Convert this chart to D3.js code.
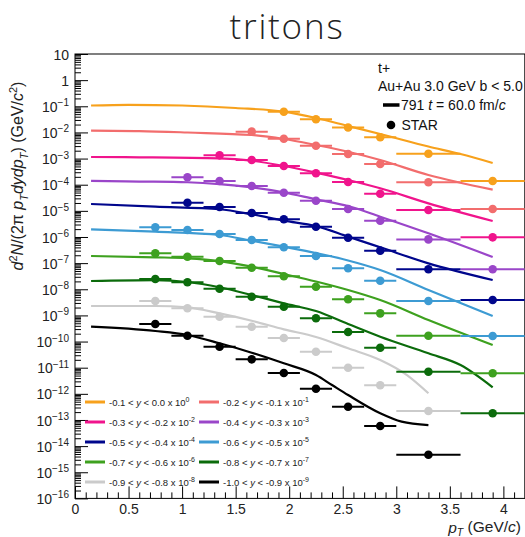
<!DOCTYPE html>
<html>
<head>
<meta charset="utf-8">
<script src="https://cdn.jsdelivr.net/npm/d3@7"></script>
<style>
  body { margin: 0; background: #fff; }
  svg { display: block; font-family: "Liberation Sans", Arial, Helvetica, sans-serif; }
</style>
</head>
<body>
<svg id="chart" width="525" height="537"></svg>
<script>
// pT bins of the STAR triton spectra (GeV/c): centres and half widths
const binCenters    = [0.75, 1.05, 1.35, 1.65, 1.95, 2.25, 2.55, 2.85, 3.3, 3.9];
const binHalfWidths = [0.15, 0.15, 0.15, 0.15, 0.15, 0.15, 0.15, 0.15, 0.3, 0.3];

// rapidity windows and the power of ten each spectrum is scaled by
const rapLow   = ["-0.1", "-0.2", "-0.3", "-0.4", "-0.5", "-0.6", "-0.7", "-0.8", "-0.9", "-1.0"];
const rapHigh  = ["0.0", "-0.1", "-0.2", "-0.3", "-0.4", "-0.5", "-0.6", "-0.7", "-0.8", "-0.9"];
const scaleExp = [0, -1, -2, -3, -4, -5, -6, -7, -8, -9];
const colors   = ["#f7a11c", "#f26d6d", "#f0148c", "#9a46c9", "#00068c",
                  "#3d9bd3", "#3ea11f", "#0b6b0b", "#cbcbcb", "#000000"];

// STAR yields d2N/(2pi pT dy dpT), unscaled, one entry per pT bin (null = not measured)
const star0 = [null, null, null, null, 0.062, 0.032, 0.0154, 0.0065, 0.00153, 1.39e-4];
const star1 = [null, null, null, 0.107, 0.0575, 0.031, 0.0149, 0.0062, 0.00124, 1.17e-4];
const star2 = [null, null, 0.133, 0.088, 0.0519, 0.0273, 0.0127, 0.00453, 0.00108, 9.7e-5];
const star3 = [null, 0.192, 0.139, 0.089, 0.0494, 0.0244, 0.0117, 0.0042, 8.1e-4, 5.8e-5];
const star4 = [null, 0.205, 0.140, 0.0826, 0.0479, 0.0247, 0.0094, 0.0030, 5.8e-4, 3.9e-5];
const star5 = [0.234, 0.185, 0.130, 0.0766, 0.0403, 0.0187, 0.00634, 0.00212, 3.56e-4, 1.63e-5];
const star6 = [0.238, 0.176, 0.120, 0.0668, 0.0313, 0.0125, 0.00413, 0.00120, 1.67e-4, 6.1e-6];
const star7 = [0.247, 0.185, 0.105, 0.0519, 0.0215, 0.00774, 0.00232, 5.8e-4, 7.0e-5, 1.8e-6];
const star8 = [0.356, 0.187, 0.089, 0.037, 0.0136, 0.00408, 0.00100, 2.12e-4, 2.2e-5, null];
const star9 = [0.469, 0.167, 0.0635, 0.0209, 0.00627, 0.00157, 3.2e-4, 5.9e-5, 4.7e-6, null];
const starSeries = [star0, star1, star2, star3, star4, star5, star6, star7, star8, star9];

// model spectra (t = 60 fm/c), unscaled: [pT, yield]
const model0 = [[0.15, 0.107], [0.5, 0.114], [1.0, 0.107], [1.5, 0.0859], [1.95, 0.0621], [2.25, 0.0356],
                [2.55, 0.0176], [2.85, 0.00871], [3.3, 0.00289], [3.6, 0.00149], [3.9, 6.8e-4]];
const model1 = [[0.15, 0.118], [0.6, 0.113], [1.05, 0.0993], [1.65, 0.0796], [1.95, 0.056], [2.25, 0.033],
                [2.55, 0.0183], [2.85, 0.00881], [3.3, 0.00235], [3.9, 6.5e-4]];
const model2 = [[0.15, 0.115], [0.6, 0.112], [1.35, 0.102], [1.65, 0.0828], [1.95, 0.0519], [2.25, 0.0288],
                [2.55, 0.0151], [2.85, 0.00728], [3.3, 0.00194], [3.9, 4.1e-4]];
const model3 = [[0.15, 0.139], [0.6, 0.132], [1.05, 0.124], [1.35, 0.106], [1.65, 0.0796], [1.95, 0.0512],
                [2.25, 0.0276], [2.55, 0.0153], [2.85, 0.00597], [3.3, 0.00138], [3.9, 1.71e-4]];
const model4 = [[0.15, 0.183], [0.75, 0.144], [1.35, 0.115], [1.65, 0.0738], [1.95, 0.042], [2.25, 0.026],
                [2.55, 0.0103], [2.85, 0.00403], [3.3, 9.8e-4], [3.9, 2.26e-4]];
const model5 = [[0.15, 0.197], [0.75, 0.159], [1.35, 0.119], [1.65, 0.0721], [1.95, 0.0425], [2.25, 0.0244],
                [2.55, 0.0126], [2.85, 0.00546], [3.3, 9.4e-4], [3.9, 9.5e-5]];
const model6 = [[0.15, 0.187], [0.75, 0.167], [1.05, 0.153], [1.35, 0.120], [1.65, 0.073], [1.95, 0.0384],
                [2.25, 0.0198], [2.55, 0.00937], [2.85, 0.00388], [3.3, 6.7e-4], [3.9, 7.4e-5]];
const model7 = [[0.15, 0.207], [0.75, 0.225], [1.05, 0.19], [1.35, 0.119], [1.65, 0.0603], [1.95, 0.029],
                [2.25, 0.0147], [2.55, 0.00469], [2.85, 0.00153], [3.3, 3.55e-4], [3.6, 1.26e-4], [3.9, 1.77e-5]];
const model8 = [[0.15, 0.229], [0.75, 0.229], [1.05, 0.204], [1.35, 0.120], [1.65, 0.0627], [1.95, 0.0294],
                [2.25, 0.0149], [2.55, 0.00551], [2.85, 0.00197], [3.1, 5.2e-4], [3.3, 1.05e-4]];
const model9 = [[0.15, 0.370], [0.75, 0.253], [1.05, 0.178], [1.35, 0.0857], [1.65, 0.0374], [1.95, 0.0147],
                [2.25, 0.00525], [2.4, 0.00217], [2.55, 9.0e-4], [2.85, 1.8e-4], [3.05, 8.6e-5], [3.3, 6.4e-5]];
const modelSeries = [model0, model1, model2, model3, model4, model5, model6, model7, model8, model9];

// axis ticks
const xMajorTicks = [0, 0.5, 1, 1.5, 2, 2.5, 3, 3.5, 4];
const yDecadeExps = d3.range(-16, 2);   // 1e-16 ... 1e1

const svg = d3.select("#chart");
const x = d3.scaleLinear().domain([0, 4.2]).range([75, 524.8]);
const y = d3.scaleLog().domain([1e-16, 10]).range([498.4, 54]);
const factor = i => Math.pow(10, scaleExp[i]);

svg.append("defs").append("clipPath").attr("id", "plotArea")
  .append("rect").attr("x", x(0)).attr("y", y(10))
  .attr("width", x(4.2) - x(0)).attr("height", y(1e-16) - y(10));

// title
svg.append("text").attr("x", 287).attr("y", 38.5).attr("text-anchor", "middle")
  .style("font-family", "'Open Sans', 'Liberation Sans', sans-serif")
  .style("font-weight", 300).style("font-size", "35px").style("letter-spacing", "1.8px")
  .attr("fill", "#222")
  .text("tritons");

// ---- axes ----
function styleAxis(g) {
  g.attr("font-family", null).attr("font-size", null);
  g.selectAll("line").attr("stroke", "#000").attr("stroke-width", 1);
  g.select(".domain").remove();
}

const yMinorVals = [];
yDecadeExps.slice(0, -1).forEach(e => { for (let m = 2; m <= 9; m++) yMinorVals.push(m * Math.pow(10, e)); });

svg.append("g").attr("transform", `translate(${x(0)},0)`)
  .call(d3.axisLeft(y).tickValues(yMinorVals).tickSize(-6).tickFormat(""))
  .call(styleAxis);

const yMajor = svg.append("g").attr("transform", `translate(${x(0)},0)`)
  .call(d3.axisLeft(y).tickValues(yDecadeExps.map(e => Math.pow(10, e))).tickSize(-13)
        .tickPadding(6).tickFormat(""))
  .call(styleAxis);
yMajor.selectAll(".tick text").each(function (d) {
  const t = d3.select(this).attr("fill", "#222").style("font-size", "14px").attr("dy", "0.36em");
  const e = Math.round(Math.log10(d));
  if (e === 0) { t.append("tspan").text("1"); return; }
  if (e === 1) { t.append("tspan").text("10"); return; }
  t.append("tspan").text("10");
  t.append("tspan").attr("dy", "-0.55em").style("font-size", "10px").text("\u2212" + (-e));
});

const xMinorVals = d3.range(0, 42).map(i => i / 10).filter(v => Math.abs(v * 2 - Math.round(v * 2)) > 1e-6);
svg.append("g").attr("transform", `translate(0,${y(1e-16)})`)
  .call(d3.axisBottom(x).tickValues(xMinorVals).tickSize(-6).tickFormat(""))
  .call(styleAxis);
svg.append("g").attr("transform", `translate(0,${y(1e-16)})`)
  .call(d3.axisBottom(x).tickValues(xMajorTicks).tickSize(-12).tickPadding(6).tickFormat(d => String(d)))
  .call(styleAxis)
  .selectAll(".tick text").attr("fill", "#222").style("font-size", "14px");

// frame
svg.append("rect").attr("x", x(0)).attr("y", y(10))
  .attr("width", x(4.2) - x(0)).attr("height", y(1e-16) - y(10))
  .attr("fill", "none").attr("stroke", "#000").attr("stroke-width", 1);

// axis titles
const xt = svg.append("text").attr("x", 521).attr("y", 533).attr("text-anchor", "end")
  .attr("fill", "#222").style("font-size", "15.5px");
xt.append("tspan").style("font-style", "italic").text("p");
xt.append("tspan").attr("dy", "0.3em").style("font-size", "10.5px").style("font-style", "italic").text("T");
xt.append("tspan").attr("dy", "-0.3em").text(" (GeV/");
xt.append("tspan").style("font-style", "italic").text("c");
xt.append("tspan").text(")");

const yt = svg.append("text").attr("transform", "translate(23,176) rotate(-90)")
  .attr("text-anchor", "middle").attr("fill", "#222").style("font-size", "16px");
const ytParts = [["d", "i"], ["2", "sup"], ["N", "i"], ["/(2\u03c0 ", ""], ["p", "i"], ["T", "sub"],
                 ["dydp", "i"], ["T", "sub"], [") (GeV/", ""], ["c", "i"], ["2", "sup"], [")", ""]];
let shift = 0;
ytParts.forEach(([txt, kind]) => {
  const s = yt.append("tspan").text(txt);
  let target = 0;
  if (kind === "i") s.style("font-style", "italic");
  if (kind === "sup") { s.style("font-size", "11px"); target = -6; }
  if (kind === "sub") { s.style("font-size", "11px").style("font-style", "italic"); target = 5; }
  s.attr("dy", target - shift); shift = target;
});

// ---- data ----
const plot = svg.append("g").attr("clip-path", "url(#plotArea)");

const line = d3.line().x(d => x(d[0])).y(d => y(d[1])).curve(d3.curveMonotoneX);
modelSeries.forEach((m, i) => {
  plot.append("path")
    .datum(m.map(p => [p[0], p[1] * factor(i)]))
    .attr("d", line).attr("fill", "none")
    .attr("stroke", colors[i]).attr("stroke-width", 2.2);
});

starSeries.forEach((s, i) => {
  const pts = binCenters.map((c, j) => ({ c, hw: binHalfWidths[j], v: s[j] }))
    .filter(p => p.v !== null).map(p => ({ ...p, v: p.v * factor(i) }));
  const g = plot.append("g");
  g.selectAll("line").data(pts).join("line")
    .attr("x1", p => x(p.c - p.hw)).attr("x2", p => x(p.c + p.hw))
    .attr("y1", p => y(p.v)).attr("y2", p => y(p.v))
    .attr("stroke", colors[i]).attr("stroke-width", 2);
  g.selectAll("circle").data(pts).join("circle")
    .attr("cx", p => x(p.c)).attr("cy", p => y(p.v)).attr("r", 4.3)
    .attr("fill", colors[i]);
});

// ---- legend: rapidity windows ----
const leg = svg.append("g").style("font-size", "9.5px").attr("fill", "#222");
scaleExp.forEach((e, i) => {
  const col = i % 2, row = Math.floor(i / 2);
  const lx = col === 0 ? 85 : 199;
  const ly = 402 + row * 20;
  leg.append("line").attr("x1", lx).attr("x2", lx + 20).attr("y1", ly).attr("y2", ly)
    .attr("stroke", colors[i]).attr("stroke-width", 3);
  const t = leg.append("text").attr("x", lx + 24).attr("y", ly + 3.5);
  t.append("tspan").text(rapLow[i] + " < ");
  t.append("tspan").style("font-style", "italic").text("y");
  t.append("tspan").text(" < " + rapHigh[i] + " x 10");
  t.append("tspan").attr("dy", "-0.5em").style("font-size", "7px").text(e === 0 ? "0" : "-" + (-e));
});

// ---- legend: system and model ----
const info = svg.append("g").style("font-size", "14px").attr("fill", "#111");
info.append("text").attr("x", 378).attr("y", 72.5).text("t+");
info.append("text").attr("x", 378).attr("y", 90.5).text("Au+Au 3.0 GeV b < 5.0");
info.append("line").attr("x1", 383).attr("x2", 399.5).attr("y1", 105).attr("y2", 105)
  .attr("stroke", "#000").attr("stroke-width", 3.5);
const mt = info.append("text").attr("x", 401).attr("y", 110);
mt.append("tspan").text("791 ");
mt.append("tspan").style("font-style", "italic").text("t");
mt.append("tspan").text(" = 60.0 fm/");
mt.append("tspan").style("font-style", "italic").text("c");
info.append("circle").attr("cx", 391).attr("cy", 125).attr("r", 4.3).attr("fill", "#000");
info.append("text").attr("x", 401.5).attr("y", 130).text("STAR");
</script>
</body>
</html>
